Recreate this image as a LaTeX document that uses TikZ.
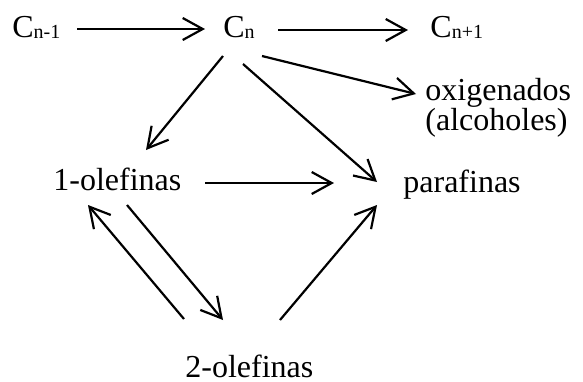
\documentclass[tikz,border=0pt]{standalone}
\usepackage{fontspec}
\setmainfont{Liberation Serif}
\usetikzlibrary{arrows.meta}
\newcommand{\csub}[1]{\raisebox{-0.6pt}{\fontsize{10}{10}\selectfont #1}}

\begin{document}
\begin{tikzpicture}[x=0.5pt, y=-0.5pt,
  every node/.style={inner sep=0pt, anchor=base west, font=\fontsize{16}{15}\selectfont},
  arr/.style={-{Straight Barb[length=10pt, width=11pt]}, line width=1.1pt}]
  \useasboundingbox (0,0) rectangle (583,381);

  % species
  \node (cn1) at (12,37) {C\csub{n-1}};
  \node (cn) at (223,37) {C\csub{n}};
  \node (cnp) at (430,37) {C\csub{n+1}};
  \node[align=left] (oxi) at (425,130) {oxigenados\\(alcoholes)};
  \node (olef1) at (53,190) {1-olefinas};
  \node (paraf) at (403,192) {parafinas};
  \node (olef2) at (185,377) {2-olefinas};

  % chain growth
  \draw[arr] ([shift={(65,-8)}]cn1.base west) -- ([shift={(-18,-8)}]cn.base west);
  \draw[arr] ([shift={(55,-7)}]cn.base west) -- ([shift={(-22,-7)}]cnp.base west);
  % products from Cn
  \draw[arr] ([shift={(39,19)}]cn.base west) -- ([shift={(-9,-36)}]oxi.base west);
  \draw[arr] ([shift={(0,19)}]cn.base west) -- ([shift={(93,-40)}]olef1.base west);
  \draw[arr] ([shift={(20,27)}]cn.base west) -- ([shift={(-26,-10)}]paraf.base west);
  % secondary reactions
  \draw[arr] ([shift={(152,-7)}]olef1.base west) -- ([shift={(-69,-9)}]paraf.base west);
  \draw[arr] ([shift={(-1,-58)}]olef2.base west) -- ([shift={(35,15)}]olef1.base west);
  \draw[arr] ([shift={(74,15)}]olef1.base west) -- ([shift={(38,-57)}]olef2.base west);
  \draw[arr] ([shift={(95,-57)}]olef2.base west) -- ([shift={(-26,13)}]paraf.base west);
\end{tikzpicture}
\end{document}
